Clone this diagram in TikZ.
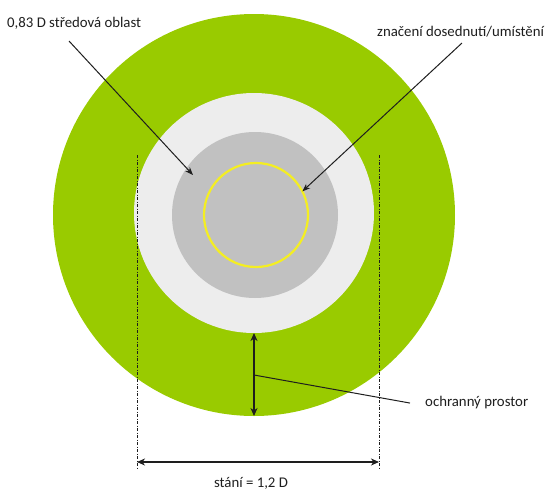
\documentclass[tikz,border=0pt]{standalone}
\usepackage{fontspec}
\setmainfont{Carlito}
\usetikzlibrary{arrows.meta}
\definecolor{grn}{HTML}{99CB00}
\definecolor{whitish}{HTML}{EDEDED}
\definecolor{midgray}{HTML}{C1C1C1}
\definecolor{ringyellow}{HTML}{F4EE22}
\definecolor{ink}{HTML}{1E1E1E}
\tikzset{
  disc/.style={circle, inner sep=0pt, outer sep=0pt},
  lbl/.style={inner sep=0pt, font=\fontsize{14.8}{17}\selectfont, text=ink},
  leader/.style={draw=ink, line width=1pt},
  pointer/.style={leader, -{Stealth[length=8pt, width=6pt, inset=2.5pt]}},
  dimarrow/.style={leader, line width=1.2pt, {Stealth[length=8pt, width=7pt, inset=2.5pt]}-{Stealth[length=8pt, width=7pt, inset=2.5pt]}},
  dashdotline/.style={draw=ink, line width=1pt, dash pattern=on 3pt off 1.5pt on 1pt off 1.5pt}
}
\begin{document}
\begin{tikzpicture}[x=1pt, y=-1pt]
\useasboundingbox (0,0) rectangle (558,491);
% discs
\node[disc, fill=grn, minimum size=402pt] (green) at (254,215) {};
\node[disc, fill=whitish, minimum size=240pt] (white) at (254,213) {};
\node[disc, fill=midgray, minimum size=166pt] (gray) at (255,215) {};
\node[disc, draw=ringyellow, line width=2.2pt, minimum size=104pt] (ring) at (256,215) {};
% labels
\node[lbl, anchor=base west] (central) at (7,27) {0,83 D středová oblast};
\node[lbl, anchor=base west] (mark) at (377,36) {značení dosednutí/umístění};
\node[lbl, anchor=base west] (protect) at (425,406) {ochranný prostor};
\node[lbl, anchor=base] (stand) at (251,487) {stání = 1,2 D};
% pointer arrows
\coordinate (cstart) at (69,41);
\coordinate (ctip) at (193,175);
\draw[pointer] (cstart) -- (ctip);
\coordinate (mstart) at (462,43);
\draw[pointer] (mstart) -- (ring.27.5);
% protective space
\draw[dimarrow] (white.south) -- (green.south);
\coordinate (pmid) at (254,375);
\draw[leader] (pmid) -- ([xshift=-15pt, yshift=-1pt]protect.west);
% stand width
\coordinate (lt) at (137,155);
\coordinate (lb) at (137,469);
\coordinate (rt) at (379,155);
\coordinate (rb) at (379,469);
\draw[dashdotline] (lt) -- (lb);
\draw[dashdotline] (rt) -- (rb);
\coordinate (la) at (137,462);
\coordinate (ra) at (379,462);
\draw[dimarrow] (la) -- (ra);
\end{tikzpicture}
\end{document}
